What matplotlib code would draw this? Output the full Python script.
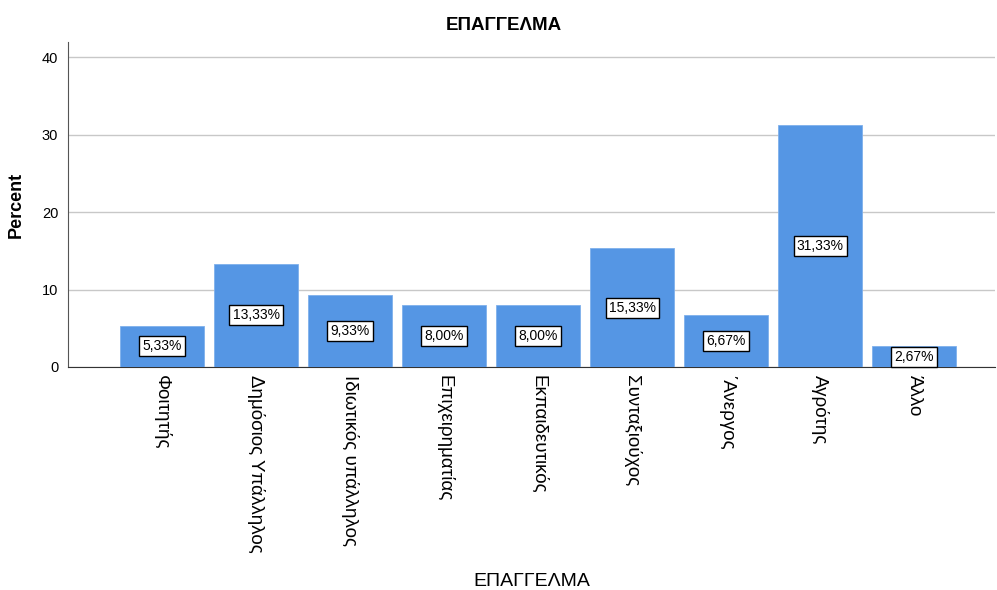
import matplotlib
matplotlib.use("Agg")
import matplotlib.pyplot as plt

categories = ["Φοιτητής", "Δημόσιος Υπάλληλος", "Ιδιωτικός υπάλληλος", "Επιχειρηματίας",
              "Εκπαιδευτικός", "Συνταξιούχος", "΄Ανεργος", "Αγρότης", "Άλλο"]
percent = [5.33, 13.33, 9.33, 8.00, 8.00, 15.33, 6.67, 31.33, 2.67]
labels = ["5,33%", "13,33%", "9,33%", "8,00%", "8,00%", "15,33%", "6,67%", "31,33%", "2,67%"]
yticks = [0, 10, 20, 30, 40]

plt.rcParams['font.family'] = ['Liberation Sans', 'DejaVu Sans']

fig = plt.figure(figsize=(9.97, 5.90), dpi=100)
ax = fig.add_axes([68/997, 1-367/590, (995-68)/997, (367-42)/590])

x = list(range(len(categories)))
ax.bar(x, percent, width=0.894, color="#5596e4", edgecolor="#7fb0ec", linewidth=0.6, zorder=3)
for xi, v, lab in zip(x, percent, labels):
    ax.text(xi, v/2, lab, ha="center", va="center", fontsize=10, zorder=4,
            bbox=dict(boxstyle="square,pad=0.22", facecolor="white", edgecolor="black", linewidth=1.0))

ax.set_xlim(-1.0, 8.86)
ax.set_ylim(0, 42.0)
ax.set_yticks(yticks)
ax.yaxis.grid(True, color="#c8c8c8", linewidth=1.0, zorder=0)
ax.set_axisbelow(True)
ax.set_xticks(x)
ax.set_xticklabels(categories, rotation=-90, fontsize=13.5, va="top", ha="center")
ax.tick_params(axis="x", length=0, pad=6)
ax.tick_params(axis="y", length=0, labelsize=10.5, pad=7)
for s in ["top", "right"]:
    ax.spines[s].set_visible(False)
ax.spines["left"].set_color("#555555")
ax.spines["bottom"].set_color("#333333")

ax.set_ylabel("Percent", fontsize=13, fontweight="bold", labelpad=12)
ax.set_xlabel("ΕΠΑΓΓΕΛΜΑ", fontsize=14, labelpad=14)
fig.text(0.505, 1-25/590, "ΕΠΑΓΓΕΛΜΑ", ha="center", va="center", fontsize=13.5, fontweight="bold")

fig.savefig("out.png", dpi=100)
